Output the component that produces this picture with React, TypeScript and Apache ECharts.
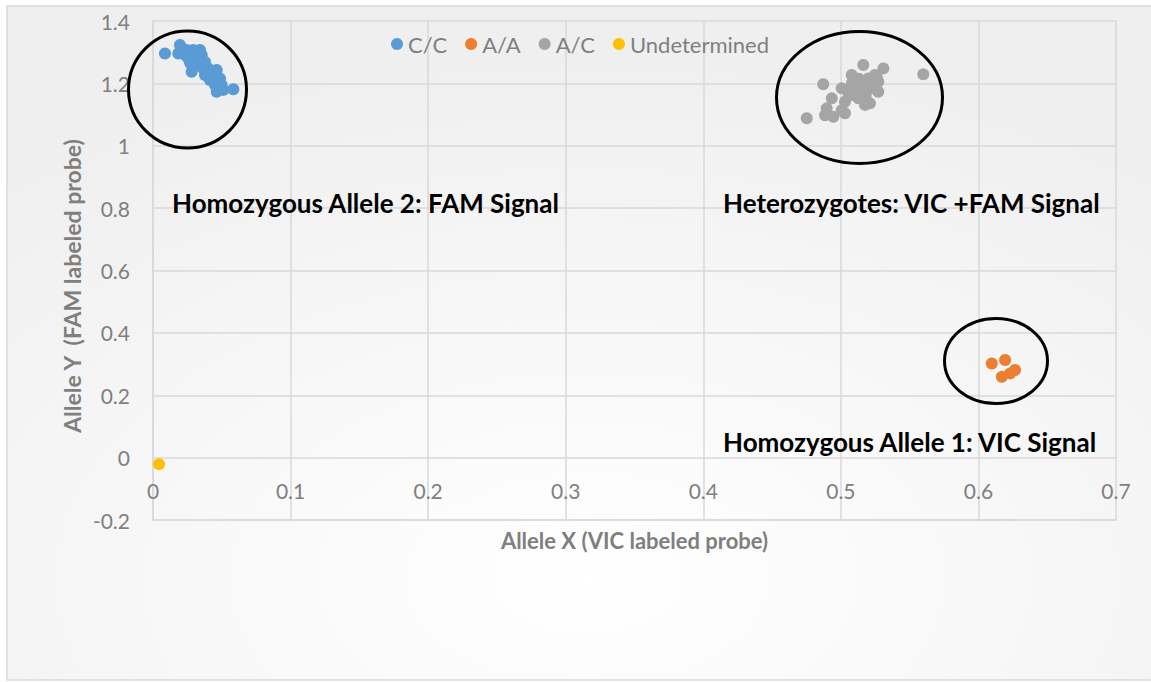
import React, { useEffect, useRef } from "react";
import * as echarts from "echarts";

// C/C genotype points [Allele X, Allele Y]
const ccPoints: number[][] = [
  [0.0087, 1.296], [0.0196, 1.323], [0.0184, 1.296], [0.0245, 1.307],
  [0.0293, 1.307], [0.0342, 1.307], [0.0257, 1.28], [0.0305, 1.285],
  [0.0354, 1.291], [0.0281, 1.237], [0.0329, 1.259], [0.0378, 1.269],
  [0.0402, 1.248], [0.0463, 1.243], [0.0438, 1.227], [0.0487, 1.216],
  [0.0451, 1.195], [0.0499, 1.195], [0.0463, 1.173], [0.0511, 1.179],
  [0.0584, 1.181], [0.0233, 1.291], [0.0378, 1.227], [0.0414, 1.211],
  [0.028, 1.3], [0.032, 1.27], [0.036, 1.25], [0.04, 1.235],
  [0.044, 1.21], [0.048, 1.19], [0.027, 1.265],
];

// A/A genotype points
const aaPoints: number[][] = [
  [0.6097, 0.302], [0.6194, 0.313], [0.617, 0.259], [0.623, 0.27], [0.6266, 0.281],
];

// A/C genotype points
const acPoints: number[][] = [
  [0.4752, 1.088], [0.4872, 1.197], [0.5599, 1.229], [0.4934, 1.152],
  [0.4897, 1.12], [0.4885, 1.098], [0.4945, 1.093], [0.5006, 1.114],
  [0.503, 1.104], [0.503, 1.141], [0.5006, 1.184], [0.5079, 1.227],
  [0.5163, 1.259], [0.5309, 1.248], [0.5091, 1.189], [0.5152, 1.205],
  [0.52, 1.216], [0.5248, 1.227], [0.5272, 1.205], [0.5224, 1.184],
  [0.5152, 1.173], [0.5127, 1.152], [0.5176, 1.131], [0.5212, 1.136],
  [0.5272, 1.173], [0.5103, 1.163], [0.5054, 1.173], [0.5188, 1.189],
  [0.5261, 1.221], [0.512, 1.17], [0.515, 1.18], [0.518, 1.16],
  [0.52, 1.2], [0.508, 1.2], [0.523, 1.195], [0.513, 1.215],
  [0.506, 1.16], [0.517, 1.145],
];

// Undetermined points
const undPoints: number[][] = [[0.0044, -0.021]];

const seriesNames = ["C/C", "A/A", "A/C", "Undetermined"];
const seriesColors = ["#5B9BD5", "#ED7D31", "#A5A5A5", "#FFC000"];

const xAxisTitle = "Allele X (VIC labeled probe)";
const yAxisTitle = "Allele Y  (FAM labeled probe)";
const annotationTexts = [
  "Homozygous Allele 2: FAM Signal",
  "Heterozygotes: VIC +FAM Signal",
  "Homozygous Allele 1: VIC Signal",
];

const xRange = { min: 0, max: 0.7, interval: 0.1 };
const yRange = { min: -0.2, max: 1.4, interval: 0.2 };

const FONT = "Lato, 'Open Sans', sans-serif";
const GRAY_TEXT = "#7f7f7f";
const GRID_COLOR = "#d9d9d9";

export default function App() {
  const ref = useRef<HTMLDivElement>(null);

  useEffect(() => {
    if (!ref.current) return;
    const chart = echarts.init(ref.current, null, { renderer: "svg" });
    const allData = [ccPoints, aaPoints, acPoints, undPoints];

    const option: any = {
      animation: false,
      backgroundColor: "#ffffff",
      textStyle: { fontFamily: FONT },
      grid: { left: 153, top: 21, right: 35, bottom: 162, containLabel: false },
      legend: {
        data: seriesNames,
        left: 386,
        top: 28,
        icon: "circle",
        itemWidth: 12,
        itemHeight: 12,
        itemGap: 18,
        textStyle: { fontSize: 22, color: GRAY_TEXT, fontFamily: FONT },
      },
      xAxis: {
        type: "value",
        min: xRange.min,
        max: xRange.max,
        interval: xRange.interval,
        axisLine: { show: true, onZero: false, lineStyle: { color: GRID_COLOR, width: 1.5 } },
        axisTick: { show: false },
        axisLabel: { fontSize: 21, color: GRAY_TEXT, margin: -40, fontFamily: FONT },
        splitLine: { show: true, lineStyle: { color: GRID_COLOR, width: 1.5 } },
        name: xAxisTitle,
        nameLocation: "middle",
        nameGap: 9,
        nameMoveOverlap: false,
        nameTextStyle: {
          fontSize: 22,
          fontWeight: "bold",
          color: GRAY_TEXT,
          fontFamily: FONT,
          verticalAlign: "top",
        },
      },
      yAxis: {
        type: "value",
        min: yRange.min,
        max: yRange.max,
        interval: yRange.interval,
        axisLine: { show: true, lineStyle: { color: GRID_COLOR, width: 1.5 } },
        axisTick: { show: false },
        axisLabel: { fontSize: 21, color: GRAY_TEXT, margin: 23, fontFamily: FONT },
        splitLine: { show: true, lineStyle: { color: GRID_COLOR, width: 1.5 } },
      },
      series: seriesNames.map((name, i) => ({
        name,
        type: "scatter",
        data: allData[i],
        symbol: "circle",
        symbolSize: 12,
        itemStyle: { color: seriesColors[i], opacity: 1 },
        z: 3 + i,
      })),
      graphic: [
        {
          type: "rect",
          z: -10,
          silent: true,
          shape: { x: 7, y: 6, width: 1160, height: 674 },
          style: {
            fill: new echarts.graphic.RadialGradient(0.5, 0.85, 0.8, [
              { offset: 0, color: "#ffffff" },
              { offset: 1, color: "#efefef" },
            ]),
            stroke: GRID_COLOR,
            lineWidth: 1.5,
          },
        },
        {
          type: "text",
          z: 50,
          rotation: Math.PI / 2,
          x: 72,
          y: 286,
          style: {
            text: yAxisTitle,
            font: `bold 23px ${FONT}`,
            fill: GRAY_TEXT,
            align: "center",
            verticalAlign: "middle",
            textAlign: "center",
            textVerticalAlign: "middle",
          },
        },
        ...[
          { x: 172, y: 203 },
          { x: 723, y: 203 },
          { x: 723, y: 442 },
        ].map((p, i) => ({
          type: "text",
          z: 50,
          x: p.x,
          y: p.y,
          style: {
            text: annotationTexts[i],
            font: `bold 26px ${FONT}`,
            fill: "#000000",
            align: "left",
            verticalAlign: "middle",
            textAlign: "left",
            textVerticalAlign: "middle",
          },
        })),
        ...[
          { cx: 187.5, cy: 89.5, rx: 59, ry: 58.5 },
          { cx: 859.5, cy: 97.5, rx: 83, ry: 66 },
          { cx: 996, cy: 361, rx: 51.5, ry: 42.5 },
        ].map((s) => ({
          type: "ellipse",
          z: 60,
          silent: true,
          shape: s,
          style: { fill: "transparent", stroke: "#000000", lineWidth: 3 },
        })),
      ],
    };

    chart.setOption(option);
    return () => chart.dispose();
  }, []);

  return (
    <div
      ref={ref}
      style={{ position: "absolute", left: 0, top: 0, width: 1151, height: 682 }}
    />
  );
}
